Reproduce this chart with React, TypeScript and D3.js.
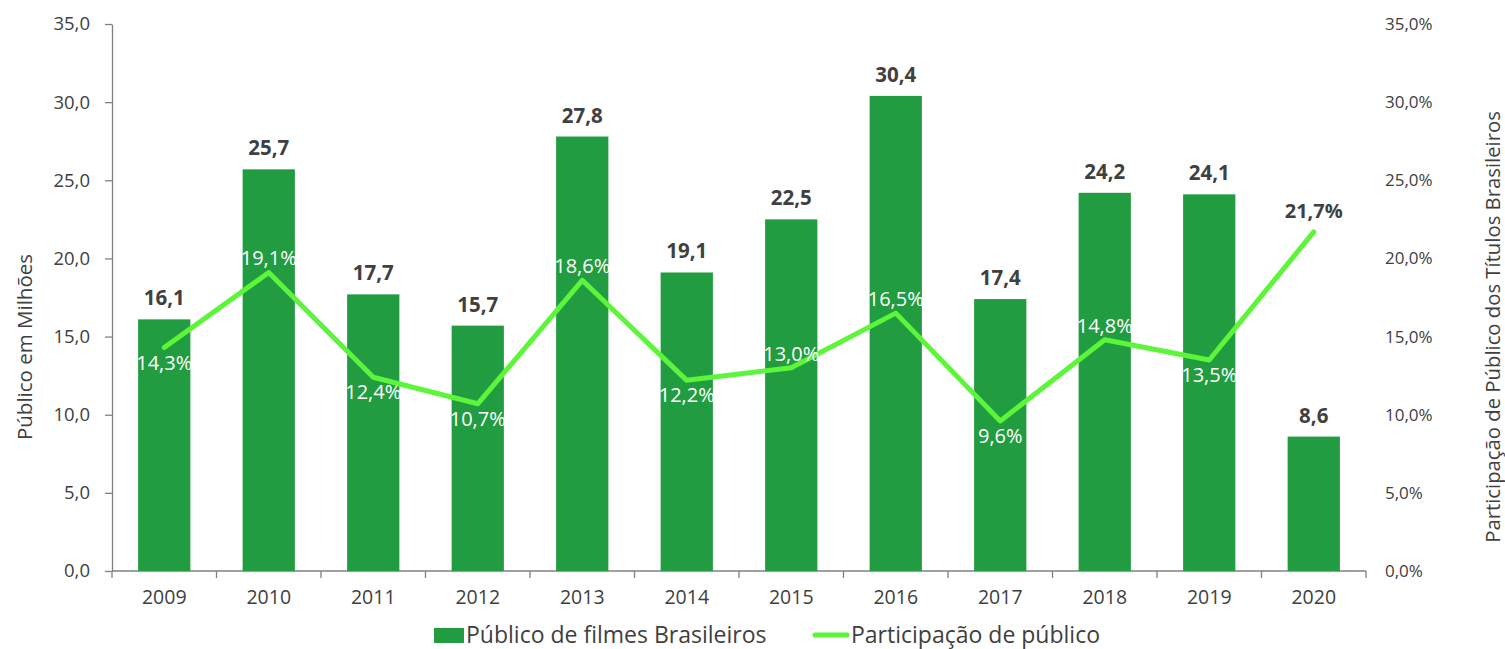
import { useEffect, useRef } from 'react';
import * as d3 from 'd3';

const years = ['2009', '2010', '2011', '2012', '2013', '2014', '2015', '2016', '2017', '2018', '2019', '2020'];
const publico = [16.1, 25.7, 17.7, 15.7, 27.8, 19.1, 22.5, 30.4, 17.4, 24.2, 24.1, 8.6];
const participacao = [14.3, 19.1, 12.4, 10.7, 18.6, 12.2, 13.0, 16.5, 9.6, 14.8, 13.5, 21.7];
const leftTicks = [0, 5, 10, 15, 20, 25, 30, 35];
const rightTicks = [0, 5, 10, 15, 20, 25, 30, 35];

const W = 1505;
const H = 649;
const FONT = '"Open Sans", "Noto Sans", sans-serif';
const BAR = '#219c40';
const LINE = '#5cf53a';
const TEXT = '#404040';
const AXIS = '#808080';

const fmt = (v: number) => v.toFixed(1).replace('.', ',');

export default function App() {
  const ref = useRef<SVGSVGElement>(null);

  useEffect(() => {
    document.body.style.margin = '0';
    const svg = d3.select(ref.current!);
    svg.selectAll('*').remove();

    const m = { top: 24, right: 139, bottom: 78, left: 112 };
    const x = d3.scaleBand().domain(years).range([m.left, W - m.right]).paddingInner(0.5).paddingOuter(0.25);
    const y = d3.scaleLinear().domain([0, 35]).range([H - m.bottom, m.top]);
    const y2 = d3.scaleLinear().domain([0, 35]).range([H - m.bottom, m.top]);
    const step = x.step();

    // left axis
    const gl = svg.append('g').attr('transform', `translate(${m.left},0)`);
    gl.call(d3.axisLeft(y).tickValues(leftTicks).tickFormat((d) => fmt(d as number)).tickSize(7).tickSizeOuter(0));
    gl.select('.domain').attr('stroke', AXIS).attr('stroke-width', 1.3);
    gl.selectAll('.tick line').attr('stroke', AXIS).attr('stroke-width', 1.3);
    gl.selectAll('.tick text').attr('fill', TEXT).attr('font-size', 18.5).attr('font-family', FONT).attr('x', -22);

    // right axis (no line)
    const gr = svg.append('g').attr('transform', `translate(${W - m.right},0)`);
    gr.call(d3.axisRight(y2).tickValues(rightTicks).tickFormat((d) => fmt(d as number) + '%').tickSize(0));
    gr.select('.domain').remove();
    gr.selectAll('.tick text').attr('fill', TEXT).attr('font-size', 17).attr('font-family', FONT).attr('x', 19);

    // bottom axis with ticks between categories
    const base = H - m.bottom;
    svg.append('line').attr('x1', m.left).attr('x2', W - m.right).attr('y1', base).attr('y2', base)
      .attr('stroke', AXIS).attr('stroke-width', 1.3);
    const bounds = d3.range(years.length + 1).map((i) => m.left + i * step);
    svg.append('g').selectAll('line').data(bounds).enter().append('line')
      .attr('x1', (d) => d).attr('x2', (d) => d).attr('y1', base).attr('y2', base + 7)
      .attr('stroke', AXIS).attr('stroke-width', 1.3);
    svg.append('g').selectAll('text').data(years).enter().append('text')
      .attr('x', (d) => x(d)! + x.bandwidth() / 2).attr('y', base + 33)
      .attr('text-anchor', 'middle').attr('fill', TEXT).attr('font-size', 19.5).attr('font-family', FONT)
      .text((d) => d);

    // bars
    svg.append('g').selectAll('rect').data(publico).enter().append('rect')
      .attr('x', (_, i) => x(years[i])!).attr('width', x.bandwidth())
      .attr('y', (d) => y(d)).attr('height', (d) => y(0) - y(d)).attr('fill', BAR);
    svg.append('g').selectAll('text').data(publico).enter().append('text')
      .attr('x', (_, i) => x(years[i])! + x.bandwidth() / 2).attr('y', (d) => y(d) - 14)
      .attr('text-anchor', 'middle').attr('fill', TEXT).attr('font-size', 20.5).attr('font-weight', 'bold')
      .attr('font-family', FONT).text((d) => fmt(d));

    // line
    const cx = (i: number) => x(years[i])! + x.bandwidth() / 2;
    const line = d3.line<number>().x((_, i) => cx(i)).y((d) => y2(d));
    svg.append('path').datum(participacao).attr('d', line).attr('fill', 'none')
      .attr('stroke', LINE).attr('stroke-width', 5).attr('stroke-linecap', 'round').attr('stroke-linejoin', 'round');

    const last = participacao.length - 1;
    svg.append('g').selectAll('text').data(participacao).enter().append('text')
      .attr('x', (_, i) => cx(i))
      .attr('y', (d, i) => {
        if (i === last) return y2(d) - 21;
        const above = i > 0 && d > participacao[i - 1];
        return y2(d) + (above ? -14 : 15);
      })
      .attr('dy', '0.35em')
      .attr('text-anchor', 'middle').attr('font-size', 20).attr('font-family', FONT)
      .attr('fill', (_, i) => (i === last ? TEXT : '#ffffff'))
      .attr('font-weight', (_, i) => (i === last ? 'bold' : 'normal'))
      .text((d) => fmt(d) + '%');

    // axis titles
    svg.append('text').attr('transform', `translate(32,347) rotate(-90)`).attr('text-anchor', 'middle')
      .attr('fill', TEXT).attr('font-size', 20.5).attr('font-family', FONT).text('Público em Milhões');
    svg.append('text').attr('transform', `translate(1500,327) rotate(-90)`).attr('text-anchor', 'middle')
      .attr('fill', TEXT).attr('font-size', 20.3).attr('font-family', FONT).text('Participação de Público dos Títulos Brasileiros');

    // legend
    const ly = 635;
    svg.append('rect').attr('x', 434).attr('y', ly - 7).attr('width', 30).attr('height', 15).attr('fill', BAR);
    svg.append('text').attr('x', 466).attr('y', ly).attr('dy', '0.35em').attr('fill', TEXT)
      .attr('font-size', 23).attr('font-family', FONT).text('Público de filmes Brasileiros');
    svg.append('line').attr('x1', 815).attr('x2', 847).attr('y1', ly).attr('y2', ly)
      .attr('stroke', LINE).attr('stroke-width', 5).attr('stroke-linecap', 'round');
    svg.append('text').attr('x', 851).attr('y', ly).attr('dy', '0.35em').attr('fill', TEXT)
      .attr('font-size', 23).attr('font-family', FONT).text('Participação de público');
  }, []);

  return <svg ref={ref} width={W} height={H} style={{ display: 'block', background: '#fff' }} />;
}
